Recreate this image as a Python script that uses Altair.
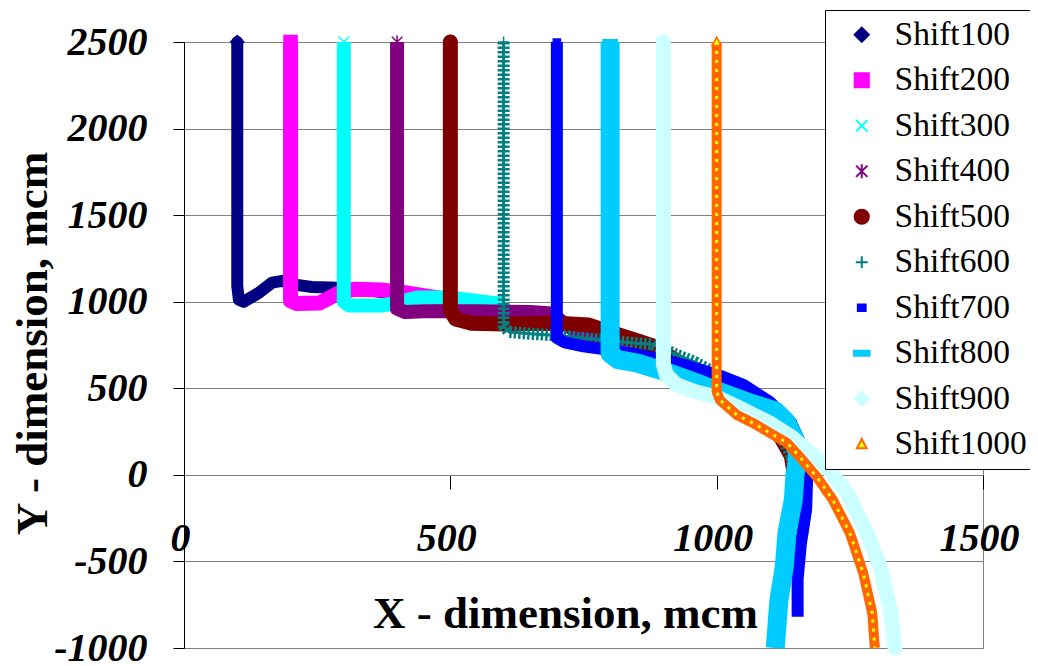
import altair as alt
import pandas as pd

series = ["Shift100", "Shift200", "Shift300", "Shift400", "Shift500",
          "Shift600", "Shift700", "Shift800", "Shift900", "Shift1000"]
colors = ["#000080", "#FF00FF", "#00FFFF", "#800080", "#800000",
          "#008080", "#0000FF", "#00CCFF", "#CCFFFF", "#FF6600"]
fills = ["#000080", "#FF00FF", "#00FFFF", "#800080", "#800000",
         "#008080", "#0000FF", "#00CCFF", "#CCFFFF", "#FFFF00"]
shapes = ["diamond", "square",
          "M-0.8,-0.8L0.8,0.8M-0.8,0.8L0.8,-0.8",
          "M-0.8,-0.8L0.8,0.8M-0.8,0.8L0.8,-0.8M0,-1L0,1",
          "circle",
          "M-0.85,0L0.85,0M0,-0.85L0,0.85",
          "M-0.55,-0.45L0.55,-0.45L0.55,0.45L-0.55,0.45Z",
          "M-1.1,-0.35L1.1,-0.35L1.1,0.35L-1.1,0.35Z",
          "diamond",
          "M0,-0.75L0.68,0.55L-0.68,0.55Z"]

x_ticks = [0, 500, 1000, 1500]
y_ticks = [-1000, -500, 0, 500, 1000, 1500, 2000, 2500]

s100_x = [100, 100, 103, 112, 140, 165, 185, 205, 240, 290, 340, 390, 420]
s100_y = [2500, 1090, 1012, 1000, 1050, 1110, 1120, 1100, 1085, 1080, 1070, 1045, 1030]

s200_x = [200, 200, 212, 255, 290, 320, 370, 420, 480, 540]
s200_y = [2500, 1005, 990, 993, 1050, 1072, 1068, 1050, 1020, 990]

s300_x = [300, 300, 310, 370, 400, 440, 500, 550, 600]
s300_y = [2500, 1000, 978, 978, 995, 1025, 1025, 1005, 985]

s400_x = [400, 400, 415, 450, 550, 650, 690, 720, 760, 830, 900, 950, 1000, 1050, 1090, 1125, 1138]
s400_y = [2500, 960, 940, 945, 945, 940, 932, 860, 790, 720, 660, 610, 560, 470, 350, 220, 130]

s500_x = [500, 500, 510, 540, 600, 700, 760, 800, 850, 880, 940, 990, 1040, 1075, 1120, 1140, 1146, 1142, 1137]
s500_y = [2500, 950, 900, 875, 872, 875, 865, 825, 775, 745, 630, 560, 470, 340, 220, 110, 0, -150, -220]

s600_x = [600, 600, 610, 650, 700, 750, 800, 850, 880, 920, 960, 990, 1040, 1075, 1120, 1140, 1146]
s600_y = [2500, 860, 825, 815, 805, 790, 775, 760, 755, 700, 650, 600, 500, 360, 230, 110, 0]

s700_x = [700, 700, 715, 750, 790, 850, 900, 950, 1000, 1050, 1100, 1140, 1162, 1170, 1168, 1158, 1152, 1152]
s700_y = [2500, 790, 765, 742, 725, 695, 665, 625, 580, 520, 420, 300, 150, 0, -200, -400, -600, -820]

s800_x = [800, 800, 815, 850, 880, 900, 950, 1006, 1068, 1110, 1130, 1145, 1152, 1150, 1147, 1144, 1132, 1127, 1117, 1110]
s800_y = [2500, 700, 665, 647, 618, 600, 545, 479, 410, 370, 310, 220, 120, 50, 0, -144, -335, -530, -720, -1000]

s900_x = [900, 900, 905, 925, 960, 1000, 1040, 1100, 1140, 1169, 1200, 1245, 1282, 1307, 1325, 1335]
s900_y = [2500, 640, 580, 520, 480, 450, 390, 300, 220, 144, 69, -104, -335, -531, -762, -1000]

s1000_x = [1000, 1000, 1006, 1038, 1068, 1100, 1132, 1156, 1188, 1218, 1250, 1275, 1292, 1297]
s1000_y = [2500, 480, 433, 346, 300, 242, 185, 104, -12, -144, -335, -566, -797, -1000]

xs_all = [s100_x, s200_x, s300_x, s400_x, s500_x, s600_x, s700_x, s800_x, s900_x, s1000_x]
ys_all = [s100_y, s200_y, s300_y, s400_y, s500_y, s600_y, s700_y, s800_y, s900_y, s1000_y]

rows = []
for name, xs, ys in zip(series, xs_all, ys_all):
    for i, (xv, yv) in enumerate(zip(xs, ys)):
        rows.append({"series": name, "x": xv, "y": yv, "i": i})
df = pd.DataFrame(rows)

FONT = "Liberation Serif"

x_enc = alt.X("x:Q",
              scale=alt.Scale(domain=[0, 1500], nice=False, zero=False),
              axis=alt.Axis(values=x_ticks, labelExpr="'' + datum.value", offset=-173,
                            tickSize=14, tickColor="black",
                            domainColor="#808080", grid=False,
                            labelFont=FONT, labelFontSize=40, labelFontStyle="italic",
                            labelFontWeight="bold", labelColor="black",
                            labelBaseline="alphabetic", labelPadding=61, labelOffset=-4,
                            labelFlush=False, labelOverlap=False,
                            title="X - dimension, mcm", titleFont=FONT, titleFontSize=45,
                            titleFontWeight="bold", titleColor="black",
                            titleX=381, titleY=152, titleBaseline="alphabetic",
                            titleAlign="center"))
y_enc = alt.Y("y:Q",
              scale=alt.Scale(domain=[-1000, 2500], nice=False, zero=False),
              axis=alt.Axis(values=y_ticks, labelExpr="'' + datum.value",
                            tickSize=11, tickColor="black",
                            domainColor="black", grid=True, gridColor="#808080",
                            labelFont=FONT, labelFontSize=40, labelFontStyle="italic",
                            labelFontWeight="bold", labelColor="black",
                            labelPadding=26, labelFlush=False, labelOverlap=False,
                            title="Y - dimension, mcm", titleFont=FONT, titleFontSize=45,
                            titleFontWeight="bold", titleColor="black",
                            titleAngle=270, titleX=-138, titleY=301,
                            titleBaseline="alphabetic", titleAlign="center"))

widths = [12, 15, 14, 14, 15, 3, 12, 19, 15, 10]
caps = ["round", "butt", "butt", "butt", "round", "butt", "butt", "butt", "round", "butt"]

layers = []
for name, col, w, cap in zip(series, colors, widths, caps):
    layers.append(
        alt.Chart().mark_line(color=col, strokeWidth=w, strokeJoin="round", strokeCap=cap)
        .encode(x=x_enc, y=y_enc, order="i:Q")
        .transform_filter(alt.datum.series == name)
    )
    if name == "Shift600":
        layers.append(
            alt.Chart().mark_line(color=col, strokeWidth=12, strokeDash=[2.5, 2], strokeJoin="round")
            .encode(x=x_enc, y=y_enc, order="i:Q")
            .transform_filter(alt.datum.series == name)
        )
    if name == "Shift1000":
        layers.append(
            alt.Chart().mark_line(color="#FFFF00", strokeWidth=3, strokeDash=[3, 6])
            .encode(x=x_enc, y=y_enc, order="i:Q")
            .transform_filter(alt.datum.series == name)
        )

leg = dict(orient="none", legendX=641, legendY=-32, title=None,
           fillColor="white", strokeColor="black", padding=8,
           labelFont=FONT, labelFontSize=33.5, labelColor="black",
           symbolSize=200, symbolStrokeWidth=2, rowPadding=10.5,
           symbolOffset=12, labelOffset=16, labelLimit=300)

points = (
    alt.Chart().mark_point(filled=True, size=170, strokeWidth=1.5, opacity=1)
    .encode(
        x=x_enc, y=y_enc,
        shape=alt.Shape("series:N", sort=series,
                        scale=alt.Scale(domain=series, range=shapes), legend=alt.Legend(**leg)),
        fill=alt.Fill("series:N", sort=series,
                      scale=alt.Scale(domain=series, range=fills), legend=alt.Legend(**leg)),
        stroke=alt.Stroke("series:N", sort=series,
                          scale=alt.Scale(domain=series, range=colors), legend=alt.Legend(**leg)),
    )
    .transform_filter(alt.datum.i == 0)
)

chart = (
    alt.layer(*layers, points, data=df)
    .properties(width=799, height=606,
                autosize=alt.AutoSizeParams(type="none"),
                padding={"left": 176, "top": 34, "right": 47, "bottom": 18},
                background="white")
    .configure_view(stroke="#808080", strokeWidth=1)
)

chart.save("out.html", embed_options={"renderer": "svg", "actions": False})
